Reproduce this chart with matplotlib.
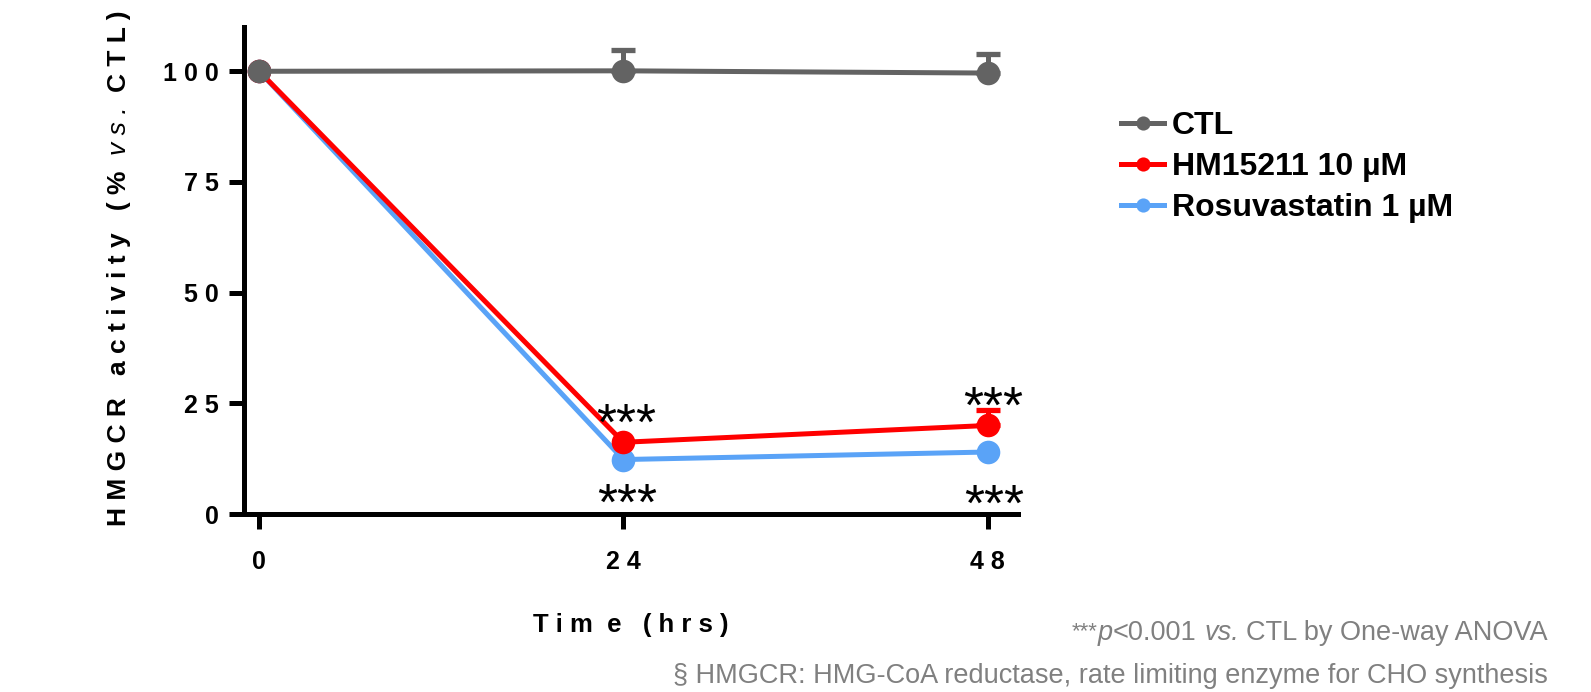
import matplotlib
matplotlib.use("Agg")
import matplotlib.pyplot as plt
import numpy as np

plt.rcParams['font.family'] = ['Liberation Sans', 'DejaVu Sans']

# ---------------- data ----------------
time_h = [0, 24, 48]
ctl_mean = [100.0, 100.1, 99.6]
ctl_err = [0.0, 4.7, 4.2]
hm_mean = [100.0, 16.2, 20.0]
hm_err = [0.0, 0.0, 3.6]
rosu_mean = [100.0, 12.3, 14.0]
rosu_err = [0.0, 0.0, 0.0]
series_labels = ['CTL', 'HM15211 10 µM', 'Rosuvastatin 1 µM']
y_ticks = [0, 25, 50, 75, 100]
x_ticks = [0, 24, 48]
# significance marks: (time, series key, text)
sig_marks = [(24, 'hm', '***'), (48, 'hm', '***'), (24, 'rosu', '***'), (48, 'rosu', '***')]
y_label_runs = ['HMGCR activity (%', 'vs.', 'CTL)']
x_label = 'Tim e (hrs)'
foot1 = ['***', 'p', '<0.001', 'vs.', 'CTL by One-way ANOVA']
foot2 = '§ HMGCR: HMG-CoA reductase, rate limiting enzyme for CHO synthesis'

# ---------------- style ----------------
W, H = 1591, 692
GREY = '#636363'
RED = '#FF0000'
BLUE = '#5AA3F7'
FOOT = '#808080'
LW = 3.6
MS = 17
AXLW = 3.6

fig = plt.figure(figsize=(W / 100, H / 100), dpi=100)
ax = fig.add_axes([244 / W, 1 - 514 / H, (1018 - 244) / W, (514 - 27) / H])

means = {'ctl': ctl_mean, 'hm': hm_mean, 'rosu': rosu_mean}
errs = {'ctl': ctl_err, 'hm': hm_err, 'rosu': rosu_err}
colors = {'ctl': GREY, 'hm': RED, 'rosu': BLUE}
zo = {'rosu': 3, 'hm': 4, 'ctl': 5}

handles = {}
for key in ['rosu', 'hm', 'ctl']:
    t = np.array(time_h, dtype=float)
    m = np.array(means[key])
    e = np.array(errs[key])
    sel = e > 0
    if sel.any():
        ax.errorbar(t[sel], m[sel], yerr=[np.zeros(sel.sum()), e[sel]], fmt='none',
                    ecolor=colors[key], elinewidth=LW, capsize=8.5, capthick=3.8,
                    zorder=zo[key] - 0.5, clip_on=False)
    ln, = ax.plot(t, m, '-o', color=colors[key], lw=LW, ms=MS, mew=0,
                  zorder=zo[key], clip_on=False)
    handles[key] = ln

ax.set_xlim(-1, 50)
ax.set_ylim(0, 110)
for s in ['top', 'right']:
    ax.spines[s].set_visible(False)
for s in ['left', 'bottom']:
    ax.spines[s].set_linewidth(AXLW)
ax.set_yticks(y_ticks)
ax.set_yticklabels([' '.join(str(v)) for v in y_ticks], fontsize=18, fontweight='bold')
ax.set_xticks(x_ticks)
ax.set_xticklabels([' '.join(str(v)) for v in x_ticks], fontsize=18, fontweight='bold')
ax.tick_params(axis='y', direction='out', length=11, width=AXLW, pad=7)
ax.tick_params(axis='x', direction='out', length=11, width=AXLW, pad=15)

# significance asterisks
sig_offsets = {(24, 'hm'): (2, 29), (48, 'hm'): (4.3, 29.5),
               (24, 'rosu'): (3, -16), (48, 'rosu'): (5, -22)}
for tx, key, txt in sig_marks:
    yv = means[key][time_h.index(tx)]
    ax.annotate(txt, xy=(tx, yv), xytext=sig_offsets[(tx, key)], textcoords='offset points',
                ha='center', va='top', fontsize=37, color='black', zorder=10)

# legend
leg = fig.legend([handles['ctl'], handles['hm'], handles['rosu']], series_labels,
                 loc='upper left', bbox_to_anchor=(1121 / W, 1 - 111 / H),
                 frameon=False, markerscale=0.6, handlelength=1.35, handletextpad=0.25,
                 labelspacing=0.34, borderpad=0, borderaxespad=0,
                 prop={'weight': 'bold', 'size': 23})

# ---------------- text helpers ----------------
fig.canvas.draw()
renderer = fig.canvas.get_renderer()


def adv(s, **kw):
    t = fig.text(0, 0, '|' + s + '|', **kw)
    w1 = t.get_window_extent(renderer).width
    t.set_text('||')
    w0 = t.get_window_extent(renderer).width
    t.remove()
    return w1 - w0


def place_runs(runs, along, across, align='left', rotation=0):
    """runs: list of (text, props, shift_across, gap_after)"""
    lens = []
    for s, kw, dy, gap in runs:
        L = adv(s, **kw)
        G = adv(gap, **kw) if gap else 0.0
        lens.append((L, G))
    total = sum(L + G for L, G in lens) - lens[-1][1]
    if align == 'right':
        pos = along - total
    elif align == 'center':
        pos = along - total / 2
    else:
        pos = along
    for (s, kw, dy, gap), (L, G) in zip(runs, lens):
        if rotation == 0:
            fig.text(pos / W, (across + dy) / H, s, ha='left', va='baseline',
                     rotation_mode='anchor', **kw)
        else:
            fig.text((across - dy) / W, pos / H, s, ha='left', va='baseline',
                     rotation=90, rotation_mode='anchor', **kw)
        pos += L + G


def spaced(s, word_gap='  '):
    return word_gap.join(' '.join(w) for w in s.split(' '))


# y label (rotated, letter-spaced, with italic "vs.")
bold_y = dict(fontsize=19, fontweight='bold', color='black')
ital_y = dict(fontsize=19, fontstyle='italic', color='black')
place_runs([(spaced(y_label_runs[0], '   '), bold_y, 0, '  '),
            (spaced(y_label_runs[1]), ital_y, 0, '  '),
            (spaced(y_label_runs[2]), bold_y, 0, '')],
           along=H - 268, across=126, align='center', rotation=90)

# x label
fig.text(631 / W, (H - 632) / H, 'T i m  e   ( h r s )', ha='center', va='baseline',
         fontsize=18.5, fontweight='bold', color='black')

# footnotes
fn = dict(fontsize=19.5, color=FOOT)
fn_it = dict(fontsize=19.5, color=FOOT, fontstyle='italic')
fn_sup = dict(fontsize=16, color=FOOT)
place_runs([(foot1[0], fn_sup, 3, ''),
            (foot1[1], fn_it, 0, ''),
            (foot1[2], fn, 0, ' '),
            (foot1[3], fn_it, 0, ' '),
            (foot1[4], fn, 0, '')],
           along=1548, across=H - 640, align='right')
fig.text(1548 / W, (H - 683) / H, foot2, ha='right', va='baseline', **fn)

fig.savefig('out.png', dpi=100)
